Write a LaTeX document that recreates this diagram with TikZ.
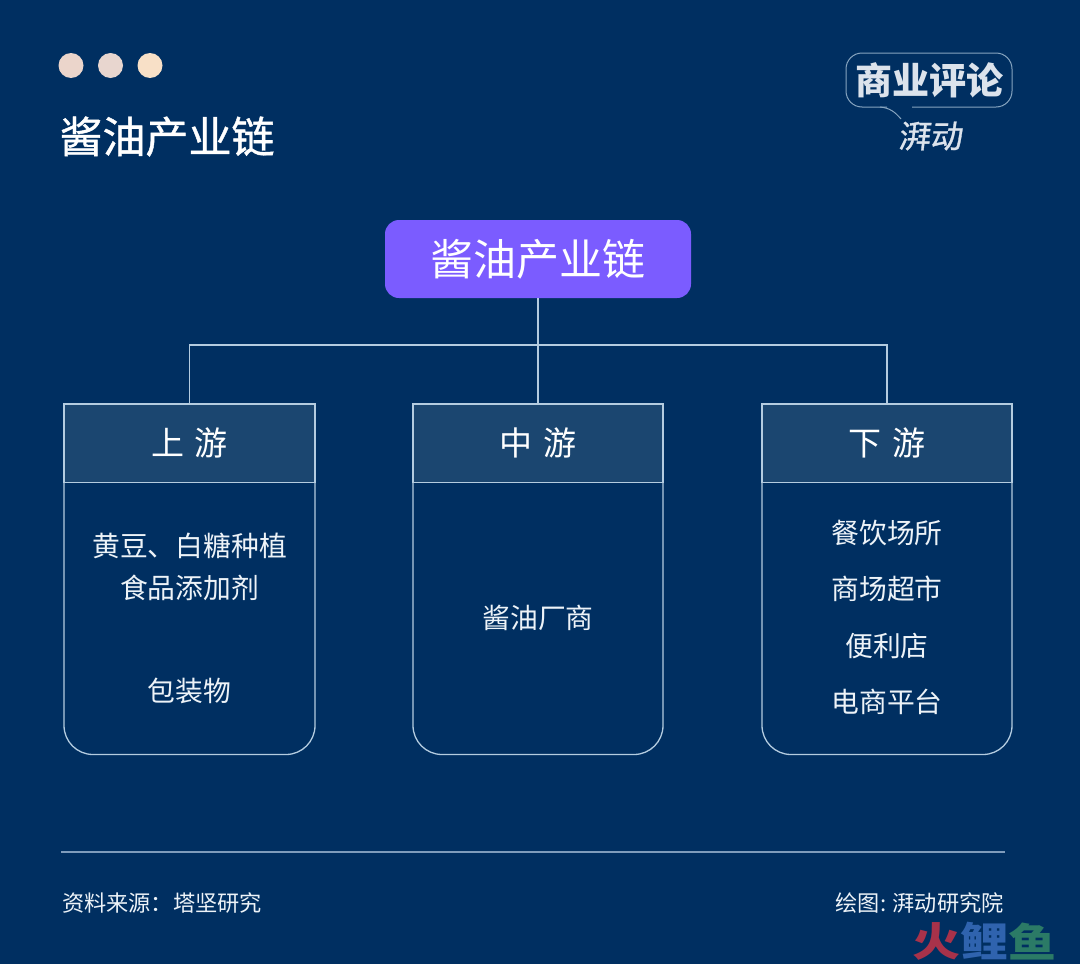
\documentclass[tikz,border=0pt]{standalone}
\usepackage{fontspec}
\setmainfont{Noto Sans CJK SC}
\newfontfamily\semibold[FakeBold=1]{Noto Sans CJK SC}
\newfontfamily\logoslant[FakeSlant=0.12,FakeBold=1]{Noto Sans CJK SC}
\definecolor{bgc}{HTML}{002F61}
\definecolor{hdrc}{HTML}{1B4670}
\definecolor{linec}{HTML}{B4CCE0}
\definecolor{purp}{HTML}{7B5CFF}
\definecolor{ruleC}{HTML}{7F9CBC}
\definecolor{logoC}{HTML}{DCE3EC}
\definecolor{bodyC}{HTML}{EDF3F8}
\definecolor{wmred}{HTML}{A8324A}
\definecolor{wmblue}{HTML}{2F63AE}
\definecolor{wmgreen}{HTML}{2B7A66}
\newcommand{\fs}[1]{\fontsize{#1pt}{#1pt}\selectfont}
\tikzset{
  dot/.style={circle,inner sep=0pt,minimum size=25pt},
  txt/.style={text=bodyC,inner sep=0pt,anchor=center,font=\fs{27.8}},
  foot/.style={text=bodyC,inner sep=0pt,font=\fs{22.2}},
  conn/.style={draw=linec,line width=1.3pt},
  hdr/.style={draw=linec,line width=1.3pt,fill=hdrc,minimum width=250pt,minimum height=78.5pt,inner sep=0pt,text=white,font=\fs{33}},
  wm/.style={inner sep=0pt,font=\bfseries\fs{40}},
}
\begin{document}
\begin{tikzpicture}[x=1pt,y=-1pt]
\useasboundingbox (0,0) rectangle (1080,964);
\fill[bgc] (0,0) rectangle (1080,964);
% dots
\node[dot,fill={rgb,255:red,235;green,213;blue,203}] (d1) at (71,65.5) {};
\node[dot,fill={rgb,255:red,232;green,214;blue,207}] (d2) at (110.5,65.5) {};
\node[dot,fill={rgb,255:red,248;green,224;blue,199}] (d3) at (150,65.5) {};
\node[inner sep=0pt,text=white,font=\semibold\fs{43}] (title) at (167,136.5) {酱油产业链};
% logo
\draw[draw=linec!75!bgc,line width=1pt,rounded corners=16pt] (887,107) -- (846,107) -- (846,53) -- (1012,53) -- (1012,107) -- (912,107);
\draw[draw=linec!75!bgc,line width=1pt] (880,107) .. controls (890,108) and (895,112) .. (901,119);
\node[inner sep=0pt,text=logoC,font=\bfseries\fs{37}] (logo) at (929,80) {商业评论};
\node[inner sep=0pt,text=logoC,font=\logoslant\fs{32}] (logob) at (930,136) {湃动};
% root
\node[fill=purp,rounded corners=14pt,minimum width=306pt,minimum height=78pt,inner sep=0pt,text=white,font=\fs{43}] (root) at (538,259) {酱油产业链};
% column bodies
\foreach \x/\w in {64/251,413/250,762/250}{
  \draw[conn,rounded corners=29pt] (\x,482.5) -- (\x,754.5) -- (\x+\w,754.5) -- (\x+\w,482.5);
}
% headers
\node[hdr,minimum width=251pt] (ha) at (189.5,443.25) {\raisebox{-1pt}{上\hspace{11pt}游}};
\node[hdr] (hb) at (538,443.25) {\raisebox{-1pt}{中\hspace{11pt}游}};
\node[hdr] (hc) at (887,443.25) {\raisebox{-1pt}{下\hspace{11pt}游}};
% connectors
\draw[conn] (root.south) -- (hb.north);
\draw[conn] (ha.north) -- ++(0,-58.5) -| (hc.north);
% column texts
\node[txt] (a1) at (189.5,546) {黄豆、白糖种植};
\node[txt] (a2) at (189.5,588) {食品添加剂};
\node[txt] (a3) at (189.5,691) {包装物};
\node[txt] (b1) at (538,618) {酱油厂商};
\node[txt] (c1) at (887,533) {餐饮场所};
\node[txt] (c2) at (887,589) {商场超市};
\node[txt] (c3) at (887,646) {便利店};
\node[txt] (c4) at (887,702) {电商平台};
% footer
\coordinate (r1) at (61,852);
\coordinate (r2) at (1005,852);
\draw[draw=ruleC,line width=1.2pt] (r1) -- (r2);
\node[foot,anchor=west] (src) at (62,903) {资料来源：塔坚研究};
\node[foot,anchor=east] (by) at (1004,903) {绘图: 湃动研究院};
% watermark
\node[wm,text=wmred] (w1) at (936,941) {\scalebox{1.2}[1]{火}};
\node[wm,text=wmblue] (w2) at (984,941) {\scalebox{1.2}[1]{鲤}};
\node[wm,text=wmgreen] (w3) at (1032,941) {\scalebox{1.2}[1]{鱼}};
\end{tikzpicture}
\end{document}
